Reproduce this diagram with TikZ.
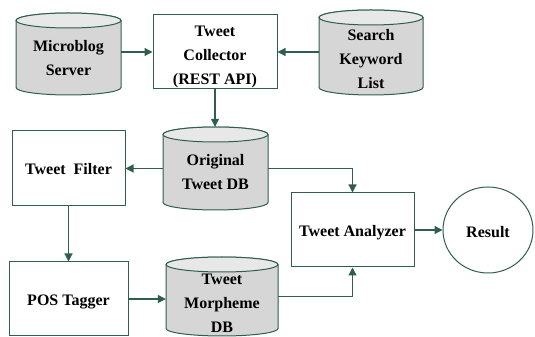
\documentclass[tikz,border=0pt]{standalone}
\usepackage{fontspec}
\setmainfont{Liberation Serif}[BoldFont={Liberation Serif Bold}]
\newfontfamily\diagfont{Liberation Serif Bold}
\usetikzlibrary{arrows.meta,shapes.geometric}
\definecolor{lnc}{HTML}{2F5D50}
\definecolor{cylbody}{HTML}{D6D6D6}
\definecolor{cyltop}{HTML}{E8E8E8}
\tikzset{
  txt/.style={font=\diagfont\fontsize{16}{24}\selectfont, align=center, text=black},
  procbox/.style={draw=lnc, line width=1pt, fill=white, inner sep=0pt},
  cylline/.style={draw=lnc, line width=1pt},
  cylnode/.style={draw=none, inner sep=0pt},
  arr/.style={draw=lnc, line width=1.2pt, -{Triangle[length=8pt,width=8pt]}},
}
\newcommand\dbcyl[7]{%
  \pgfmathsetmacro\myrx{(#3-#2)/2}%
  \pgfmathsetmacro\mycx{(#3+#2)/2}%
  \pgfmathsetmacro\mycy{(#4+#5)/2}%
  \pgfmathsetmacro\myw{#3-#2}%
  \pgfmathsetmacro\myh{#4-#5}%
  \draw[cylline, fill=cylbody] (#2,#4-7.5) -- (#2,#5+7.5)
     arc[start angle=180,end angle=360,x radius=\myrx,y radius=7.5]
     -- (#3,#4-7.5)
     arc[start angle=0,end angle=180,x radius=\myrx,y radius=7.5] -- cycle;
  \draw[cylline, fill=cyltop] (\mycx,#4-7.5) ellipse[x radius=\myrx, y radius=7.5];
  \node[cylnode, minimum width=\myw pt, minimum height=\myh pt] (#1) at (\mycx,\mycy) {};
  \node[txt] (#1-text) at ([yshift=-#7pt]#1.center) {#6};
}
\begin{document}
\begin{tikzpicture}[x=1pt,y=1pt]
\useasboundingbox (0,0) rectangle (535,337);
% cylinders
\dbcyl{mb}{16}{121}{324}{242}{Microblog\\Server}{4}
\dbcyl{skl}{319}{423}{327}{242}{Search\\Keyword\\List}{7}
\dbcyl{orig}{163}{268}{210}{127}{Original\\Tweet DB}{4}
\dbcyl{morph}{166}{278}{80}{1}{Tweet\\Morpheme\\DB}{7}
% boxes
\node[procbox, minimum width=124pt, minimum height=74pt] (col) at (215,285) {};
\node[txt] (col-text) at ([yshift=-4.5pt]col.center) {Tweet\\Collector\\(REST API)};
\node[procbox, minimum width=113pt, minimum height=75pt] (filt) at (68.5,168.5) {};
\node[txt] (filt-text) at ([yshift=-1pt]filt.center) {Tweet\ \ Filter};
\node[procbox, minimum width=123pt, minimum height=74pt] (ana) at (352.5,107) {};
\node[txt] (ana-text) at ([yshift=-3pt]ana.center) {Tweet Analyzer};
\node[procbox, minimum width=119pt, minimum height=74pt] (pos) at (68.5,38) {};
\node[txt] (pos-text) at ([yshift=-3pt]pos.center) {POS Tagger};
\node[draw=lnc, line width=1pt, ellipse, minimum width=90pt, minimum height=86pt, inner sep=0pt] (res) at (488,107) {};
\node[txt] (res-text) at ([yshift=-2pt]res.center) {Result};
% connectors
\draw[arr] (mb.east |- col.west) -- (col.west);
\draw[arr] (skl.west |- col.east) -- (col.east);
\draw[arr] (col.south) -- (col.south |- orig.north);
\draw[arr] (orig.west) -- (filt.east);
\draw[arr] (orig.east) -| (ana.north);
\draw[arr] (filt.south) -- (pos.north);
\draw[arr] (pos.east) -- (pos.east -| morph.west);
\draw[arr] (morph.east) -| (ana.south);
\draw[arr] (ana.east) -- (res.west);
\end{tikzpicture}
\end{document}
